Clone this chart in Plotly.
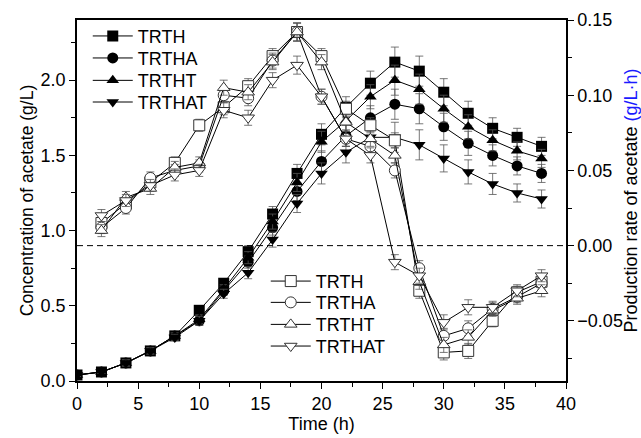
import plotly.graph_objects as go

# ---------------- data ----------------
t_conc = [0, 2, 4, 6, 8, 10, 12, 14, 16, 18, 20, 22, 24, 26, 28, 30, 32, 34, 36, 38]
TRTH_c = [0.04, 0.06, 0.12, 0.20, 0.30, 0.47, 0.65, 0.86, 1.11, 1.38, 1.64, 1.82, 1.98, 2.12, 2.06, 1.92, 1.78, 1.68, 1.62, 1.56]
TRTHA_c = [0.04, 0.06, 0.12, 0.20, 0.30, 0.40, 0.60, 0.79, 1.02, 1.26, 1.46, 1.63, 1.75, 1.84, 1.81, 1.69, 1.58, 1.50, 1.43, 1.38]
TRTHT_c = [0.04, 0.06, 0.12, 0.20, 0.30, 0.41, 0.61, 0.82, 1.06, 1.32, 1.59, 1.73, 1.89, 2.00, 1.94, 1.81, 1.69, 1.60, 1.53, 1.48]
TRTHAT_c = [0.04, 0.06, 0.12, 0.20, 0.29, 0.40, 0.58, 0.72, 0.94, 1.18, 1.38, 1.52, 1.62, 1.62, 1.57, 1.48, 1.39, 1.31, 1.25, 1.21]
err_c = [0.01, 0.01, 0.02, 0.02, 0.02, 0.03, 0.03, 0.04, 0.05, 0.06, 0.07, 0.07, 0.08, 0.10, 0.10, 0.09, 0.08, 0.07, 0.06, 0.06]

t_rate = [2, 4, 6, 8, 10, 12, 14, 16, 18, 20, 22, 24, 26, 28, 30, 32, 34, 36, 38]
TRTH_r = [0.015, 0.028, 0.042, 0.055, 0.080, 0.092, 0.106, 0.126, 0.142, 0.126, 0.091, 0.080, 0.070, -0.030, -0.071, -0.070, -0.050, -0.031, -0.024]
TRTHA_r = [0.012, 0.025, 0.045, 0.050, 0.053, 0.100, 0.098, 0.123, 0.142, 0.099, 0.071, 0.066, 0.050, -0.015, -0.060, -0.055, -0.042, -0.034, -0.025]
TRTHT_r = [0.010, 0.032, 0.038, 0.052, 0.055, 0.105, 0.102, 0.122, 0.142, 0.122, 0.082, 0.071, 0.060, -0.024, -0.066, -0.061, -0.043, -0.035, -0.030]
TRTHAT_r = [0.020, 0.030, 0.040, 0.047, 0.050, 0.090, 0.085, 0.110, 0.120, 0.099, 0.071, 0.060, -0.011, -0.020, -0.051, -0.041, -0.041, -0.030, -0.020]
err_r = [0.004, 0.004, 0.004, 0.004, 0.004, 0.005, 0.005, 0.005, 0.006, 0.005, 0.005, 0.005, 0.005, 0.005, 0.005, 0.005, 0.004, 0.004, 0.004]

names = ["TRTH", "TRTHA", "TRTHT", "TRTHAT"]
symbols = ["square", "circle", "triangle-up", "triangle-down"]
conc = [TRTH_c, TRTHA_c, TRTHT_c, TRTHAT_c]
rate = [TRTH_r, TRTHA_r, TRTHT_r, TRTHAT_r]

FONT = "Liberation Sans, Arial, sans-serif"
FS = 18

# legend row positions (paper y) for filled (top-left) and open (middle) groups
leg_filled_y = [0.955, 0.894, 0.832, 0.772]
leg_open_y = [0.276, 0.217, 0.156, 0.096]
leg_filled_x = 0.022
leg_open_x = 0.386

fig = go.Figure()

for i, (n, s, r) in enumerate(zip(names, symbols, rate)):
    fig.add_trace(go.Scatter(
        x=t_rate, y=r, name=n, yaxis="y2", mode="lines+markers",
        line=dict(color="black", width=1),
        marker=dict(symbol=s, size=11, color="white", line=dict(color="#333333", width=1)),
        error_y=dict(type="data", array=err_r, color="#555555", thickness=0.8, width=4),
        legend="legend%d" % (6 + i),
    ))

for i, (n, s, c) in enumerate(zip(names, symbols, conc)):
    fig.add_trace(go.Scatter(
        x=t_conc, y=c, name=n, mode="lines+markers",
        line=dict(color="black", width=1),
        marker=dict(symbol=s, size=11, color="black"),
        error_y=dict(type="data", array=err_c, color="#555555", thickness=0.8, width=4),
        legend="legend%d" % (2 + i),
    ))

fig.add_shape(type="line", xref="paper", x0=0, x1=1, yref="y2", y0=0, y1=0,
              line=dict(color="black", width=1, dash="6px,4px"))

axis_common = dict(showline=True, linecolor="black", linewidth=1.5, ticks="outside",
                   tickcolor="black", ticklen=6, tickwidth=1.2, showgrid=False, zeroline=False,
                   automargin=False,
                   tickfont=dict(size=FS, color="black", family=FONT))

legends = {}
for i in range(4):
    legends["legend%d" % (2 + i)] = dict(x=leg_filled_x, y=leg_filled_y[i], xanchor="left", yanchor="middle",
                                         bgcolor="rgba(0,0,0,0)", font=dict(size=FS, family=FONT), itemwidth=40)
    legends["legend%d" % (6 + i)] = dict(x=leg_open_x, y=leg_open_y[i], xanchor="left", yanchor="middle",
                                         bgcolor="rgba(0,0,0,0)", font=dict(size=FS, family=FONT), itemwidth=40)

fig.update_layout(
    width=641, height=438,
    margin=dict(l=77, r=75, t=20, b=57),
    paper_bgcolor="white", plot_bgcolor="white",
    font=dict(family=FONT, color="black", size=FS),
    xaxis=dict(range=[0, 40], dtick=5, mirror=True,
               minor=dict(dtick=2.5, ticklen=4, ticks="outside", tickcolor="black"),
               title=dict(text="Time (h)", font=dict(size=FS), standoff=4),
               **axis_common),
    yaxis=dict(range=[0, 2.4], dtick=0.5, tickformat=".1f",
               minor=dict(dtick=0.25, ticklen=4, ticks="outside", tickcolor="black"),
               title=dict(text="Concentration of acetate (g/L)", font=dict(size=17.5), standoff=2),
               **axis_common),
    yaxis2=dict(range=[-0.09, 0.15], dtick=0.05, tick0=0, tickformat=".2f", overlaying="y", side="right",
                minor=dict(dtick=0.025, ticklen=4, ticks="outside", tickcolor="black"),
                title=dict(text="Production rate of acetate <span style='color:#1a1aff'>(g/L·h)</span>",
                           font=dict(size=FS), standoff=5),
                **axis_common),
    **legends,
)

fig.write_html("out.html")
